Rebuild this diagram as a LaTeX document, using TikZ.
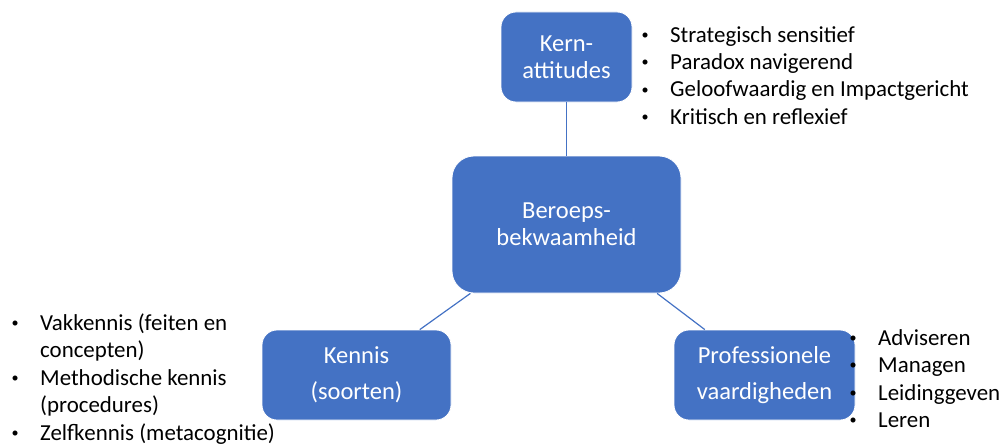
\documentclass[tikz,border=0pt]{standalone}
\usepackage{fontspec}
\setmainfont{Carlito}
\usepackage{array}
\usepackage{graphicx}
\usetikzlibrary{graphs}
\definecolor{accent}{HTML}{4472C4}
\tikzset{
	box/.style={rectangle, draw=white, line width=0.8pt, fill=accent, text=white, align=center, inner sep=0pt,
			rounded corners=15pt, font=\fontsize{24.5}{27}\selectfont},
	points/.style={anchor=base west, inner sep=0pt, font=\fontsize{22.9}{27.5}\selectfont}
}
\newcommand{\stip}{\raisebox{2.6pt}{\scalebox{0.62}{\textbullet}}}
\newcommand{\punten}[1]{\begin{tabular}[t]{@{}w{c}{12pt}@{\hspace{19pt}}l@{}}#1\end{tabular}}

\begin{document}
\begin{tikzpicture}[x=1pt, y=-1pt]
			\useasboundingbox (0,0) rectangle (1003,444);
			\graph[no placement, nodes=box, edges={draw=accent, line width=1.2pt}]{
				kern[as={Kern-\\attitudes}, at={(566.5,57)}, minimum width=131pt, minimum height=90pt]
				-- beroeps[as={Beroeps-\\bekwaamheid}, at={(566.5,224.5)}, minimum width=229pt, minimum height=137pt, rounded corners=22pt]
				-- {kennis[as={Kennis\\[9pt](soorten)}, at={(356.5,375)}, minimum width=189pt, minimum height=90pt],
					prof[as={Professionele\\[9pt]vaardigheden}, at={(764.5,375)}, minimum width=181pt, minimum height=90pt]};
			};

			\node[points] (attitudes) at (639,42) {\punten{\stip & Strategisch sensitief\\
						\stip & Paradox navigerend\\
						\stip & Geloofwaardig en Impactgericht\\
						\stip & Kritisch en reflexief}};
			\node[points] (soorten) at (9,330) {\punten{\stip & Vakkennis (feiten en\\
						& concepten)\\
						\stip & Methodische kennis\\
						& (procedures)\\
						\stip & Zelfkennis (metacognitie)}};
			\node[points] (vaardigheden) at (847,345) {\punten{\stip & Adviseren\\
						\stip & Managen\\
						\stip & Leidinggeven\\
						\stip & Leren}};
		\end{tikzpicture}
\end{document}
